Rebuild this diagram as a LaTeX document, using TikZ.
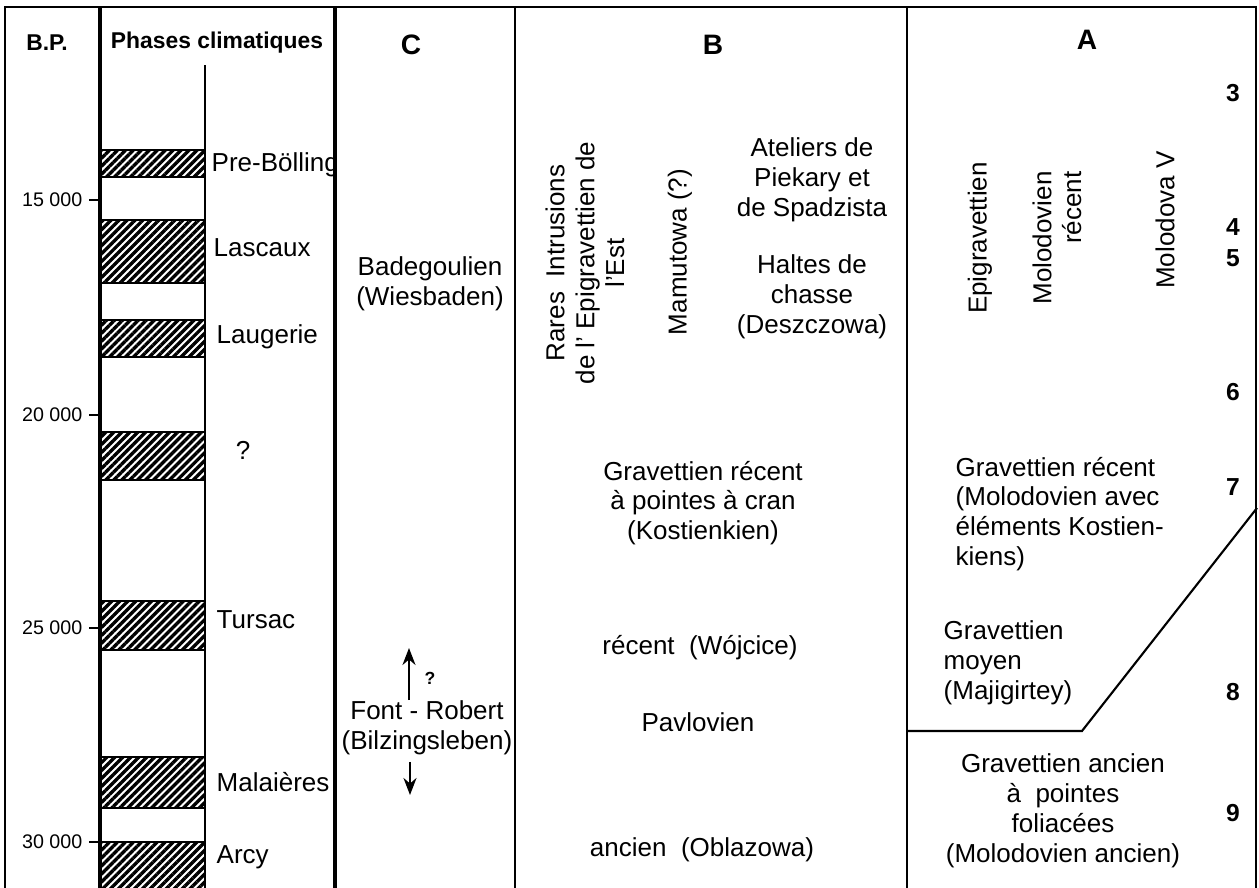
\documentclass[tikz,border=0pt]{standalone}
\usepackage{fontspec}
\setmainfont{Liberation Sans}
\usetikzlibrary{patterns.meta,arrows.meta}

\begin{document}
\begin{tikzpicture}[x=0.1mm, y=-0.1mm,
	txt/.style={font=\fontsize{7.4}{8.5}\selectfont, inner sep=0pt, align=center},
	vtxt/.style={txt, rotate=90},
	headtxt/.style={font=\bfseries\fontsize{8}{9}\selectfont, inner sep=0pt},
	coltitle/.style={font=\bfseries\fontsize{6.5}{8}\selectfont, inner sep=0pt},
	agetxt/.style={font=\fontsize{5.6}{6}\selectfont, inner sep=0pt, anchor=east},
	numtxt/.style={font=\bfseries\fontsize{7}{8}\selectfont, inner sep=0pt},
	phasetxt/.style={txt, anchor=west},
	hatchband/.style={pattern={Lines[angle=45,distance=1.6pt,line width=0.95pt]}},
	rule/.style={line width=0.55pt},
	boldrule/.style={line width=1.15pt},
	arrowline/.style={line width=0.7pt, -{Stealth[length=1.7mm,width=1.3mm]}}]
	\useasboundingbox (0,0) rectangle (1259,888);
	% frame and column rules
	\draw[rule] (5,888) -- (5,7) -- (1256,7) -- (1256,888);
	\draw[boldrule] (100,7) -- (100,888);
	\draw[rule] (205,65) -- (205,888);
	\draw[boldrule] (335,7) -- (335,888);
	\draw[rule] (515,7) -- (515,888);
	\draw[line width=0.8pt] (907,7) -- (907,888);
	% column titles
	\node[coltitle] (bp) at (47,43) {B.P.};
	\node[coltitle] (phases) at (217,43) {Phases climatiques};
	\node[headtxt] (colC) at (411,45) {C};
	\node[headtxt] (colB) at (713,45) {B};
	\node[headtxt] (colA) at (1087,40) {A};
	% age scale
	\foreach \y/\t [count=\i] in {200/15 000, 415/20 000, 628/25 000, 842/30 000} {
		\draw[rule] (89,\y) -- (100,\y);
		\node[agetxt] (age\i) at (83,\y) {\t};
	}
	% climatic phases
	\foreach \a/\b in {150/177, 220/283, 320/357, 432/480, 601/650, 757/808, 842/895} {
		\fill[hatchband] (100,\a) rectangle (205,\b);
		\draw[rule] (100,\a) -- (205,\a) (100,\b) -- (205,\b);
	}
	\node[phasetxt] (prebolling) at (211,165) {Pre-Bölling};
	\node[phasetxt] (lascaux) at (213,248) {Lascaux};
	\node[phasetxt] (laugerie) at (216,337) {Laugerie};
	\node[txt] (phasequery) at (243,450) {?};
	\node[phasetxt] (tursac) at (216,620) {Tursac};
	\node[phasetxt] (malaieres) at (216,782) {Malaières};
	\node[phasetxt] (arcy) at (216,857) {Arcy};
	% column C
	\node[txt] (badegoulien) at (430,284) {Badegoulien\\(Wiesbaden)};
	\node[txt] (fontrobert) at (427,728) {Font - Robert\\(Bilzingsleben)};
	\coordinate (upend) at (409,648);
	\coordinate (downend) at (410,795);
	\draw[arrowline] (fontrobert.north -| upend) -- (upend);
	\draw[arrowline, shorten <=0.6mm] (fontrobert.south -| downend) -- (downend);
	\node[font=\bfseries\fontsize{5}{6}\selectfont, inner sep=0pt] (upquery) at (430,678) {?};
	% column B
	\node[vtxt] (intrusions) at (585,263) {Rares\ \ Intrusions\\de l' Epigravettien de\\l'Est};
	\node[vtxt] (mamutowa) at (680,252) {Mamutowa (?)};
	\node[txt] (ateliers) at (812,180) {Ateliers de\\Piekary et\\de Spadzista};
	\node[txt] (haltes) at (812,297) {Haltes de\\chasse\\(Deszczowa)};
	\node[txt] (kostienkien) at (703,503) {Gravettien récent\\à pointes à cran\\(Kostienkien)};
	\node[txt] (wojcice) at (700,648) {récent\ \ (Wójcice)};
	\node[txt] (pavlovien) at (698,722) {Pavlovien};
	\node[txt] (oblazowa) at (702,850) {ancien\ \ (Oblazowa)};
	% column A
	\node[vtxt] (epigravettien) at (980,238) {Epigravettien};
	\node[vtxt, align=right] (molodovien) at (1057,238) {Molodovien\\récent};
	\node[vtxt] (molodova) at (1165,220) {Molodova V};
	\foreach \n/\y in {3/93, 4/227, 5/258, 6/392, 7/487, 8/692, 9/813}
		\node[numtxt] (layer\n) at (1233,\y) {\n};
	\node[txt, align=left, anchor=west] (recentA) at (955,514) {Gravettien récent\\(Molodovien avec\\éléments Kostien-\\kiens)};
	\node[txt, align=left, anchor=west] (moyenA) at (943,663) {Gravettien\\moyen\\(Majigirtey)};
	\node[txt] (ancienA) at (1063,811) {Gravettien ancien\\à\ \ pointes\\foliacées\\(Molodovien ancien)};
	\draw[line width=0.6pt] (1257,508) -- (1082,731) -- (907,731);
\end{tikzpicture}
\end{document}
